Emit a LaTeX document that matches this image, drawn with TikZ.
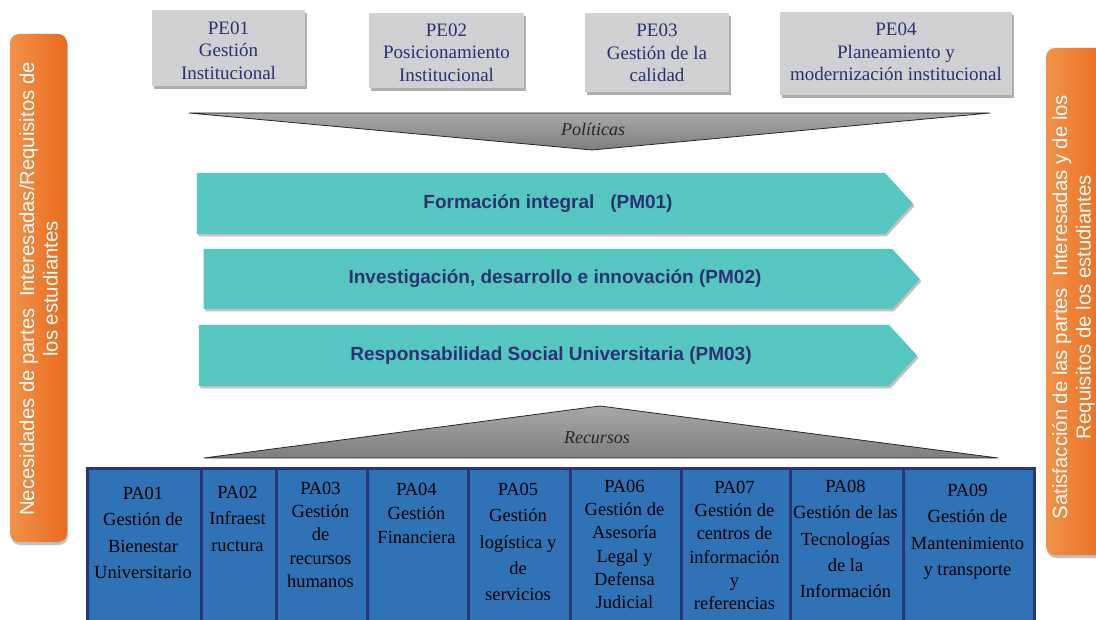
\documentclass[tikz,border=0pt]{standalone}
\usepackage{fontspec}
\setmainfont{Liberation Serif}
\setsansfont{Liberation Sans}
\usetikzlibrary{shapes.symbols,shadows}
\definecolor{pegray}{HTML}{D0CFD1}
\definecolor{navytxt}{HTML}{2B3272}
\definecolor{teal2}{HTML}{56C6C0}
\definecolor{pablue}{HTML}{2F72B5}
\definecolor{paborder}{HTML}{2B3475}
\definecolor{orL}{HTML}{F2914A}
\definecolor{orR}{HTML}{E86C1C}
\definecolor{triL}{HTML}{A8A8A8}
\definecolor{triD}{HTML}{7E7E7E}
\tikzset{
  pebox/.style={rectangle, fill=pegray, inner sep=0pt,
    drop shadow={shadow xshift=2pt, shadow yshift=-3pt, opacity=0.45, fill=black!70}},
  petext/.style={align=center, inner sep=0pt, text=navytxt, font=\fontsize{19}{22.7}\selectfont},
  pmarrow/.style={signal, signal to=east, signal from=nowhere, signal pointer angle=95,
    fill=teal2, inner sep=0pt,
    drop shadow={shadow xshift=1.5pt, shadow yshift=-2.5pt, opacity=0.35, fill=black!70}},
  pmtext/.style={inner sep=0pt, text=navytxt, font=\sffamily\bfseries\fontsize{19}{22}\selectfont},
  sidebar/.style={rectangle, rounded corners=9pt, left color=orL, right color=orR,
    drop shadow={shadow xshift=1pt, shadow yshift=-3pt, opacity=0.35, fill=black!70}},
  sidetext/.style={rotate=90, align=center, text=white, font=\sffamily\fontsize{20.3}{23.5}\selectfont},
  pacell/.style={rectangle, anchor=north west, fill=pablue, draw=paborder, line width=3pt,
    inner sep=0pt, minimum height=160pt},
  patext/.style={anchor=north, align=center, inner sep=0pt, text=black},
  pawide/.style={font=\fontsize{18.5}{26.3}\selectfont},
  patight/.style={font=\fontsize{18.5}{23.2}\selectfont},
  tri/.style={top color=triL, bottom color=triD, draw=black!85, line width=0.8pt},
  trilabel/.style={font=\itshape\fontsize{18}{20}\selectfont, text=black!85}
}
\begin{document}
\begin{tikzpicture}[x=1pt,y=-1pt]
\useasboundingbox (0,0) rectangle (1096,620);
\clip (0,0) rectangle (1096,620);

% side bars
\node[sidebar, minimum width=57pt, minimum height=508pt] (lbar) at (38.5,288) {};
\node[sidetext] (ltext) at (38.5,289) {Necesidades de partes\ \ Interesadas/Requisitos de\\los estudiantes};
\node[sidebar, minimum width=62pt, minimum height=507pt] (rbar) at (1077,301.5) {};
\node[sidetext] (rtext) at (1073.5,307) {Satisfacción de las partes\ \ Interesadas y de los\\Requisitos de los estudiantes};

% strategic processes
\node[pebox, minimum width=153pt, minimum height=76pt] (pe1) at (228.5,48) {};
\node[petext] (pe1t) at (228.5,50.5) {PE01\\Gestión\\Institucional};
\node[pebox, minimum width=155pt, minimum height=75pt] (pe2) at (446.5,50.5) {};
\node[petext] (pe2t) at (446.5,52.5) {PE02\\Posicionamiento\\Institucional};
\node[pebox, minimum width=144pt, minimum height=79pt] (pe3) at (657,52.5) {};
\node[petext] (pe3t) at (657,53) {PE03\\Gestión de la\\calidad};
\node[pebox, minimum width=232pt, minimum height=83pt] (pe4) at (896,53.5) {};
\node[petext] (pe4t) at (896,52) {PE04\\Planeamiento y\\modernización institucional};

% politicas triangle
\coordinate (polL) at (189,113);
\coordinate (polR) at (990,113);
\coordinate (polT) at (592,150);
\path[tri] (polL) -- (polR) -- (polT) -- cycle;
\node[trilabel] (pol) at (593,129) {Políticas};

% mission processes
\node[pmarrow, minimum width=716pt, minimum height=61pt] (pm1) at (541,203.5) {};
\node[pmtext] (pm1t) at (548,203.5) {Formación integral\ \ \ (PM01)};
\node[pmarrow, minimum width=716pt, minimum height=60pt] (pm2) at (548,279) {};
\node[pmtext] (pm2t) at (555,279) {Investigación, desarrollo e innovación (PM02)};
\node[pmarrow, minimum width=718pt, minimum height=61pt] (pm3) at (544,355.5) {};
\node[pmtext] (pm3t) at (551,355.5) {Responsabilidad Social Universitaria (PM03)};

% recursos triangle
\coordinate (recL) at (204,458);
\coordinate (recR) at (998,458);
\coordinate (recT) at (600,406);
\path[tri] (recL) -- (recR) -- (recT) -- cycle;
\node[trilabel] (rec) at (597,438) {Recursos};

% support processes
\node[pacell, minimum width=114pt] (pa1) at (86,467) {};
\node[pacell, minimum width=75pt] (pa2) at (200,467) {};
\node[pacell, minimum width=91pt] (pa3) at (275,467) {};
\node[pacell, minimum width=101pt] (pa4) at (366,467) {};
\node[pacell, minimum width=102pt] (pa5) at (467,467) {};
\node[pacell, minimum width=111pt] (pa6) at (569,467) {};
\node[pacell, minimum width=109pt] (pa7) at (680,467) {};
\node[pacell, minimum width=113pt] (pa8) at (789,467) {};
\node[pacell, minimum width=131pt] (pa9) at (902,467) {};

\node[patext, pawide] (t1) at (143,487) {PA01\\Gestión de\\Bienestar\\Universitario};
\node[patext, pawide] (t2) at (237.5,486) {PA02\\Infraest\\ructura};
\node[patext, patight] (t3) at (320.5,482) {PA03\\Gestión\\de\\recursos\\humanos};
\node[patext, patight, font=\fontsize{18.5}{24}\selectfont] (t4) at (416.5,483) {PA04\\Gestión\\Financiera};
\node[patext, pawide] (t5) at (518,483) {PA05\\Gestión\\logística y\\de\\servicios};
\node[patext, patight] (t6) at (624.5,480) {PA06\\Gestión de\\Asesoría\\Legal y\\Defensa\\Judicial};
\node[patext, patight] (t7) at (734.5,481) {PA07\\Gestión de\\centros de\\información\\y\\referencias};
\node[patext, pawide] (t8) at (845.5,480) {PA08\\Gestión de las\\Tecnologías\\de la\\Información};
\node[patext, pawide] (t9) at (967.5,484) {PA09\\Gestión de\\Mantenimiento\\y transporte};
\end{tikzpicture}
\end{document}
